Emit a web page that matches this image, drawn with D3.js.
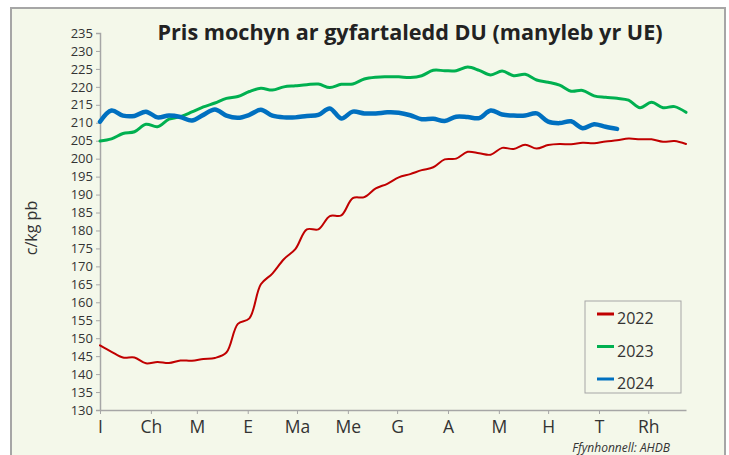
<!DOCTYPE html>
<html>
<head>
<meta charset="utf-8">
<script src="https://cdn.jsdelivr.net/npm/d3@7"></script>
<style>
  body { margin: 0; background: #fff; }
  svg { display: block; }
</style>
</head>
<body>
<div id="chart"></div>
<script>
// ===== Data (weekly, week index 0..51) =====
const series2022 = [148.0, 146.2, 144.6, 144.6, 143.0, 143.4, 143.1, 143.8, 143.7, 144.2,
  144.5, 146.0, 154.0, 155.5, 165.0, 168.0, 172.0, 174.8, 180.3, 180.3,
  184.0, 184.2, 189.0, 189.3, 191.7, 193.0, 194.8, 195.7, 196.8, 197.6,
  199.8, 200.0, 201.9, 201.5, 201.1, 203.0, 202.7, 203.9, 202.8, 203.8,
  204.1, 204.0, 204.4, 204.3, 204.8, 205.1, 205.6, 205.4, 205.4, 204.7,
  204.9, 204.1];
const series2023 = [204.9, 205.5, 207.0, 207.5, 209.6, 208.9, 211.0, 211.7, 213.0, 214.4,
  215.5, 216.8, 217.3, 218.7, 219.6, 219.1, 220.0, 220.3, 220.6, 220.8,
  219.8, 220.7, 220.8, 222.2, 222.7, 222.8, 222.8, 222.6, 223.1, 224.6,
  224.5, 224.5, 225.5, 224.6, 223.3, 224.4, 223.1, 223.5, 221.9, 221.3,
  220.5, 218.8, 219.0, 217.5, 217.1, 216.8, 216.3, 214.2, 215.7, 214.2,
  214.5, 212.9];
const series2024 = [210.3, 213.4, 212.0, 211.9, 213.1, 211.5, 212.0, 211.6, 210.6, 212.2,
  213.7, 212.0, 211.4, 212.2, 213.6, 212.0, 211.5, 211.5, 211.9, 212.2,
  214.0, 211.2, 213.1, 212.6, 212.6, 212.9, 212.8, 212.1, 211.0, 211.1,
  210.5, 211.7, 211.6, 211.3, 213.4, 212.3, 212.0, 212.0, 212.6, 210.3,
  209.9, 210.4, 208.5, 209.6, 208.9, 208.3];

const years = ["2022", "2023", "2024"];
const monthLabels = ["I", "Ch", "M", "E", "Ma", "Me", "G", "A", "M", "H", "T", "Rh"];
const monthStartDays = [0, 31, 59, 90, 120, 151, 181, 212, 243, 273, 304, 334];
const yTicks = d3.range(130, 236, 5);

const W = 729, H = 455;
const font = "'Open Sans', sans-serif";
const colors = { "2022": "#c00000", "2023": "#00b050", "2024": "#0070c0" };
const widths = { "2022": 2, "2023": 3, "2024": 4.5 };

const svg = d3.select("#chart").append("svg").attr("width", W).attr("height", H);

// ===== Frame =====
svg.append("rect")
  .attr("x", 11).attr("y", 8).attr("width", 714).attr("height", 460)
  .attr("fill", "#f4f8ea").attr("stroke", "#a6a6a6").attr("stroke-width", 2);

const x = d3.scaleLinear().domain([0, 51]).range([100, 686]);
const y = d3.scaleLinear().domain([130, 235]).range([410, 33]);

// ===== Axes =====
const yAxis = svg.append("g")
  .attr("transform", "translate(100,0)")
  .call(d3.axisLeft(y).tickValues(yTicks).tickSize(4).tickPadding(3));
yAxis.select(".domain").attr("stroke", "#a6a6a6").attr("stroke-width", 1.5);
yAxis.selectAll(".tick line").attr("stroke", "#a6a6a6");
yAxis.selectAll("text")
  .attr("fill", "#333").style("font-family", font).style("font-size", "13px");

const xAxis = svg.append("g")
  .attr("transform", "translate(0,410)")
  .call(d3.axisBottom(x).tickValues(monthStartDays.map((d) => d / 7))
    .tickFormat((d, i) => monthLabels[i]).tickSize(4).tickPadding(7).tickSizeOuter(0));
xAxis.select(".domain").attr("stroke", "#a6a6a6").attr("stroke-width", 1.5);
xAxis.selectAll(".tick line").attr("stroke", "#a6a6a6");
xAxis.selectAll("text")
  .attr("fill", "#333").style("font-family", font).style("font-size", "17.5px");

// ===== Lines =====
const line = d3.line()
  .x((d, i) => x(i))
  .y((d) => y(d))
  .curve(d3.curveCatmullRom.alpha(0.5));

const data = { "2022": series2022, "2023": series2023, "2024": series2024 };
years.forEach((yr) => {
  svg.append("path")
    .datum(data[yr])
    .attr("fill", "none")
    .attr("stroke", colors[yr])
    .attr("stroke-width", widths[yr])
    .attr("stroke-linejoin", "round")
    .attr("stroke-linecap", "round")
    .attr("d", line);
});

// ===== Title & labels =====
svg.append("text")
  .attr("x", 410).attr("y", 40)
  .attr("text-anchor", "middle")
  .style("font-family", font)
  .style("font-weight", "bold").style("font-size", "21.6px")
  .attr("fill", "#222")
  .text("Pris mochyn ar gyfartaledd DU (manyleb yr UE)");

svg.append("text")
  .attr("transform", "translate(37,228) rotate(-90)")
  .attr("text-anchor", "middle")
  .style("font-family", font).style("font-size", "16px")
  .attr("fill", "#333")
  .text("c/kg pb");

svg.append("text")
  .attr("x", 670).attr("y", 452)
  .attr("text-anchor", "end")
  .style("font-family", font)
  .style("font-style", "italic").style("font-size", "12px")
  .attr("fill", "#333")
  .text("Ffynhonnell: AHDB");

// ===== Legend =====
const legend = svg.append("g");
legend.append("rect")
  .attr("x", 585).attr("y", 301).attr("width", 96).attr("height", 92)
  .attr("fill", "#f4f8ea").attr("stroke", "#a6a6a6").attr("stroke-width", 1);
years.forEach((yr, i) => {
  const ly = 314 + i * 32.5;
  legend.append("line")
    .attr("x1", 597).attr("x2", 614).attr("y1", ly).attr("y2", ly)
    .attr("stroke", colors[yr]).attr("stroke-width", 3);
  legend.append("text")
    .attr("x", 617).attr("y", ly + 10)
    .style("font-family", font).style("font-size", "16px")
    .attr("fill", "#333")
    .text(yr);
});
</script>
</body>
</html>
